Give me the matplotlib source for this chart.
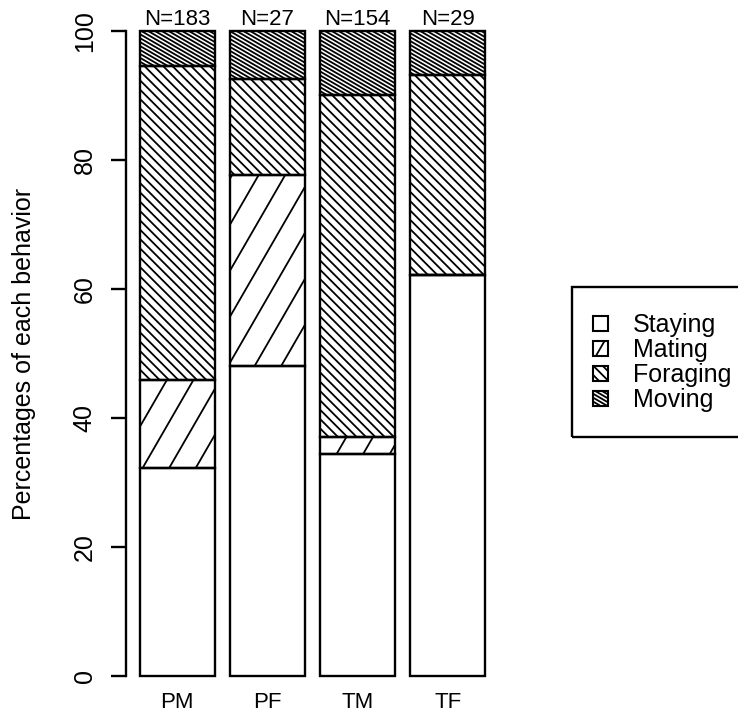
import numpy as np
import matplotlib
matplotlib.use("Agg")
import matplotlib.pyplot as plt
from matplotlib.collections import LineCollection
from matplotlib.patches import Rectangle
from matplotlib.transforms import IdentityTransform

plt.rcParams["font.family"] = ["Liberation Sans", "DejaVu Sans"]

# data (percent of observations per group)
groups = ["PM", "PF", "TM", "TF"]
n_obs = [183, 27, 154, 29]
behaviors = ["Staying", "Mating", "Foraging", "Moving"]
staying = [32.2, 48.1, 34.4, 62.1]
mating = [13.7, 29.6, 2.6, 0.0]
foraging = [48.6, 14.9, 53.0, 31.0]
moving = [5.5, 7.4, 10.0, 6.9]
yticks = [0, 20, 40, 60, 80, 100]

# hatch style per behavior: (angle in degrees, line spacing in px), None = blank
HATCH = {
    "Staying": None,
    "Mating": (60, 23.0),
    "Foraging": (135, 6.6),
    "Moving": (150, 3.4),
}
HATCH_LW = 1.3
EDGE_LW = 1.7


def hatch_segments(x0, y0, w, h, angle, spacing, cx=0.0, cy=0.0):
    """Parallel lines at `angle` clipped to rectangle, offsets measured from (cx, cy)."""
    a = np.deg2rad(angle)
    u = np.array([np.cos(a), np.sin(a)])
    n = np.array([-np.sin(a), np.cos(a)])
    c = np.array([cx, cy])
    corners = np.array([[x0, y0], [x0 + w, y0], [x0, y0 + h], [x0 + w, y0 + h]]) - c
    proj = corners @ n
    segs = []
    for k in np.arange(np.ceil(proj.min() / spacing), np.floor(proj.max() / spacing) + 1):
        p = c + n * k * spacing
        tmin, tmax = -np.inf, np.inf
        for d, lo, hi in ((0, x0, x0 + w), (1, y0, y0 + h)):
            t1 = (lo - p[d]) / u[d]
            t2 = (hi - p[d]) / u[d]
            tmin = max(tmin, min(t1, t2))
            tmax = min(tmax, max(t1, t2))
        if tmax > tmin:
            segs.append([p + tmin * u, p + tmax * u])
    return segs


fig = plt.figure(figsize=(7.38, 7.15), dpi=100)
W, H = 738, 715
ax = fig.add_axes([126 / W, 13 / H, 373 / W, 697 / H])
ax.set_xlim(0.016, 4.984)
ax.set_ylim(-4, 104)

x = 0.7 + 1.2 * np.arange(len(groups))
series = [staying, mating, foraging, moving]
bottom = np.zeros(len(groups))
for name, vals in zip(behaviors, series):
    vals = np.array(vals)
    bars = ax.bar(x, vals, width=1.0, bottom=bottom, facecolor="none",
                  edgecolor="black", linewidth=EDGE_LW, zorder=3)
    if HATCH[name] is not None:
        angle, spacing = HATCH[name]
        segs = []
        for patch, v in zip(bars.patches, vals):
            if v <= 0:
                continue
            bb = patch.get_window_extent()
            for s in hatch_segments(bb.x0, bb.y0, bb.width, bb.height, angle, spacing):
                segs.append(ax.transData.inverted().transform(np.array(s)))
        ax.add_collection(LineCollection(segs, colors="black", linewidths=HATCH_LW, zorder=2))
    bottom = bottom + vals

# group names and sample sizes
for xi, g, n in zip(x, groups, n_obs):
    ax.text(xi, -4.96, g, ha="center", va="baseline", fontsize=16, clip_on=False)
    ax.text(xi, 100.9, f"N={n}", ha="center", va="baseline", fontsize=16, clip_on=False)

for side in ["top", "right", "bottom"]:
    ax.spines[side].set_visible(False)
ax.spines["left"].set_bounds(0, 100)
ax.spines["left"].set_linewidth(EDGE_LW)
ax.set_xticks([])
ax.set_yticks(yticks, [str(t) for t in yticks], rotation=90, va="center")
ax.tick_params(axis="y", length=11, width=EDGE_LW, pad=10, labelsize=18)
ax.set_ylabel("Percentages of each behavior", fontsize=18)
ax.yaxis.set_label_coords((36 - 126) / 373, 0.5)

# legend drawn in pixel coordinates (y measured from top)
ident = IdentityTransform()


def px(xp, yp):
    return xp, H - yp


fig.patches.append(Rectangle(px(572, 437), 200, 150, fill=False, edgecolor="black",
                             linewidth=EDGE_LW, transform=ident))
row_y = [323, 348, 373, 398]
for name, ry in zip(behaviors, row_y):
    sx, sy = px(593, ry + 7.5)
    fig.patches.append(Rectangle((sx, sy), 15, 15, facecolor="white", edgecolor="black",
                                 linewidth=1.5, transform=ident, zorder=3))
    if HATCH[name] is not None:
        angle, spacing = HATCH[name]
        segs = hatch_segments(sx, sy, 15, 15, angle, spacing, sx + 7.5, sy + 7.5)
        lc = LineCollection(segs, colors="black", linewidths=HATCH_LW, transform=ident, zorder=4)
        fig.add_artist(lc)
    tx, ty = px(633, ry + 9)
    fig.text(tx / W, ty / H, name, fontsize=18, ha="left", va="baseline")

fig.savefig("out.png", dpi=100, facecolor="white")
